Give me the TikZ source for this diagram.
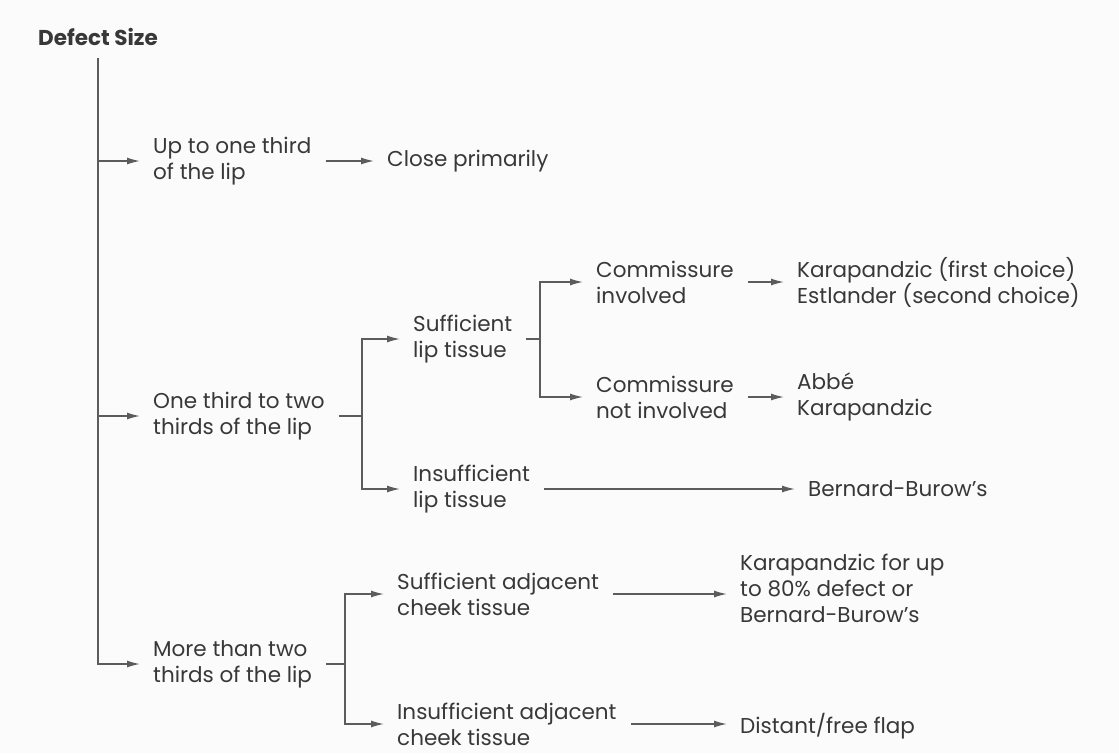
\documentclass[tikz,border=0pt]{standalone}
\usepackage{fontspec}
\setmainfont{Poppins}
\usetikzlibrary{arrows.meta}
\definecolor{ink}{gray}{0.22}
\definecolor{wire}{gray}{0.36}
\def\Fork#1#2#3{\draw[arr] (#1) |- (#2.west); \draw[arr] (#1) |- (#3.west);}

\begin{document}
\begin{tikzpicture}[x=1pt,y=-1pt,
  txt/.style={anchor=west,align=left,inner sep=0pt,text=ink,font=\fontsize{21.5}{26}\selectfont},
  ln/.style={draw=wire,line width=1.4pt},
  arr/.style={ln,-{Latex[length=13pt,width=7pt]},shorten >=13pt}]
\fill[gray!3] (0,0) rectangle (1119,753);
\useasboundingbox (0,0) rectangle (1119,753);
\node[txt,anchor=base west,font=\bfseries\fontsize{21.5}{24}\selectfont] (defect) at (38,45) {Defect Size};
\coordinate (trunk) at (98,58);
\node[txt] (upto) at (153,161) {Up to one third\\of the lip};
\node[txt] (close) at (387,161) {Close primarily};
\node[txt] (onethird) at (153,416) {One third to two\\thirds of the lip};
\node[txt] (suflip) at (413,339) {Sufficient\\lip tissue};
\node[txt] (insuflip) at (413,489) {Insufficient\\lip tissue};
\node[txt] (cominv) at (596,282) {Commissure\\involved};
\node[txt] (comnot) at (596,397) {Commissure\\not involved};
\node[txt] (karaest) at (797,282) {Karapandzic (first choice)\\Estlander (second choice)};
\node[txt] (abbe) at (797,397) {Abbé\\Karapandzic};
\node[txt] (bernard) at (808,489) {Bernard-Burow's};
\node[txt] (morethan) at (153,664) {More than two\\thirds of the lip};
\node[txt] (sufcheek) at (397,594) {Sufficient adjacent\\cheek tissue};
\node[txt] (insufcheek) at (397,724) {Insufficient adjacent\\cheek tissue};
\node[txt] (karafor) at (740,588) {Karapandzic for up\\to 80\% defect or\\Bernard-Burow's};
\node[txt] (distant) at (740,726) {Distant/free flap};
\coordinate (j2) at (362,416);
\coordinate (j3) at (540,339);
\coordinate (j4) at (345,664);
\draw[ln] (trunk) -- (trunk |- morethan.west);
\draw[arr] (trunk) |- (upto.west);
\draw[arr] (trunk) |- (onethird.west);
\draw[arr] (trunk) |- (morethan.west);
\draw[arr,shorten <=14pt] (upto.east) -- (close.west);
\draw[ln,shorten <=14pt] (onethird.east) -- (j2);
\Fork{j2}{suflip}{insuflip}
\draw[ln,shorten <=14pt] (suflip.east) -- (j3);
\Fork{j3}{cominv}{comnot}
\draw[arr,shorten <=14pt] (cominv.east) -- (karaest.west);
\draw[arr,shorten <=14pt] (comnot.east) -- (abbe.west);
\draw[arr,shorten <=14pt] (insuflip.east) -- (bernard.west);
\draw[ln,shorten <=14pt] (morethan.east) -- (j4);
\Fork{j4}{sufcheek}{insufcheek}
\draw[arr,shorten <=14pt] (sufcheek.east) -- (sufcheek.east -| karafor.west);
\draw[arr,shorten <=14pt] (insufcheek.east) -- (insufcheek.east -| distant.west);
\end{tikzpicture}
\end{document}
